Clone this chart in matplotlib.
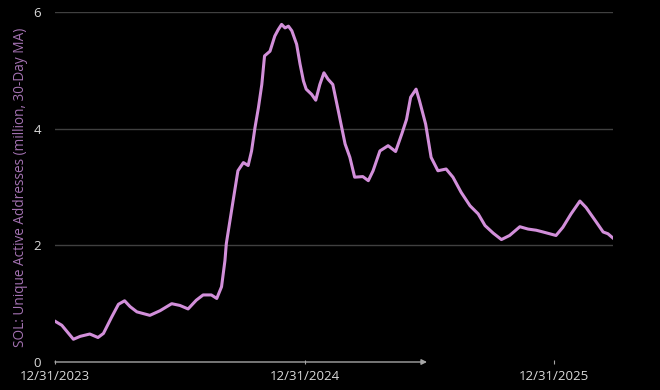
import numpy as np
import matplotlib.pyplot as plt

# days since 12/31/2023
days = [0, 10, 27, 37, 51, 63, 71, 83, 93, 102, 110, 120, 139, 154, 171, 183, 195, 207,
        217, 229, 237, 244, 249, 251, 261, 268, 276, 283, 288, 293, 298, 303, 307, 315,
        322, 327, 332, 337, 342, 347, 354, 359, 364, 368, 376, 382, 388, 394, 400, 407,
        415, 425, 432, 439, 451, 459, 466, 476, 488, 499, 508, 515, 521, 529, 534, 543,
        551, 561, 573, 583, 595, 608, 620, 630, 642, 654, 666, 681, 693, 705, 715, 734,
        744, 756, 769, 778, 793, 803, 810, 817]
# SOL unique active addresses, million, 30-day MA
addresses = [0.70, 0.63, 0.39, 0.44, 0.48, 0.42, 0.49, 0.77, 0.99, 1.05, 0.95, 0.86, 0.80,
             0.88, 1.00, 0.97, 0.91, 1.06, 1.15, 1.15, 1.09, 1.29, 1.74, 2.03, 2.77, 3.28,
             3.42, 3.37, 3.62, 4.02, 4.36, 4.76, 5.25, 5.33, 5.59, 5.70, 5.79, 5.73, 5.76,
             5.68, 5.45, 5.11, 4.82, 4.68, 4.59, 4.49, 4.76, 4.96, 4.85, 4.76, 4.31, 3.74,
             3.51, 3.17, 3.18, 3.11, 3.28, 3.62, 3.71, 3.61, 3.91, 4.16, 4.54, 4.68, 4.48,
             4.08, 3.51, 3.28, 3.31, 3.17, 2.91, 2.68, 2.54, 2.34, 2.21, 2.10, 2.17, 2.32,
             2.28, 2.26, 2.23, 2.17, 2.31, 2.54, 2.76, 2.65, 2.40, 2.23, 2.20, 2.13]
xtick_days = [0, 366, 731]
xtick_labels = ["12/31/2023", "12/31/2024", "12/31/2025"]
yticks = [0, 2, 4, 6]

plt.rcParams['font.family'] = ['Open Sans', 'DejaVu Sans']

fig = plt.figure(figsize=(6.6, 3.9), dpi=100, facecolor="black")
ax = fig.add_axes([0.0833, 0.0718, 0.845, 0.897], facecolor="black")

ax.plot(days, addresses, color="#d28fda", linewidth=2.2, solid_joinstyle="round")

ax.set_xlim(0, 817)
ax.set_ylim(0, 6)
for y in yticks[1:]:
    ax.axhline(y, color="#404040", linewidth=1.0, zorder=0)

for s in ax.spines.values():
    s.set_visible(False)

# x axis drawn as arrow, ending around mid-2025
ax.annotate("", xy=(545, 0), xytext=(0, 0), xycoords="data",
            arrowprops=dict(arrowstyle="-|>", color="#a6a6a6", lw=1.0,
                            mutation_scale=8, shrinkA=0, shrinkB=0),
            annotation_clip=False)

ax.set_xticks(xtick_days)
ax.set_xticklabels(xtick_labels)
ax.set_yticks(yticks)
ax.tick_params(axis="x", colors="#a6a6a6", labelcolor="#d9d9d9", length=3,
               direction="inout", labelsize=9.5, pad=4)
ax.tick_params(axis="y", length=0, labelcolor="#d9d9d9", labelsize=9.5, pad=10)

ax.set_ylabel("SOL: Unique Active Addresses (million, 30-Day MA)", color="#a472b2",
              fontsize=9.8, labelpad=4)

fig.savefig("out.png", dpi=100, facecolor="black")
